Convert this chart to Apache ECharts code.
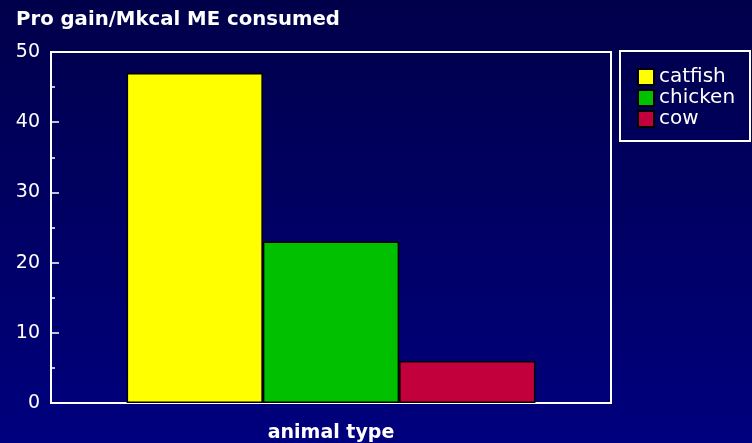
<!DOCTYPE html>
<html>
<head>
<meta charset="utf-8">
<script src="https://cdn.jsdelivr.net/npm/echarts@6/dist/echarts.min.js"></script>
<style>
  html, body { margin: 0; padding: 0; }
  #chart { width: 752px; height: 443px; }
</style>
</head>
<body>
<div id="chart"></div>
<script>
// Protein gain per Mkcal of metabolizable energy consumed, by animal
const animals = ['catfish', 'chicken', 'cow'];
const proGain = [47, 23, 6];
const animalColors = ['#ffff00', '#00c000', '#c2003c'];
const yTicks = [0, 10, 20, 30, 40, 50];

const font = '"DejaVu Sans", Verdana, sans-serif';

const series = animals.map((name, i) => ({
  name: name,
  type: 'bar',
  data: [proGain[i]],
  barGap: '0%',
  barCategoryGap: '27%',
  itemStyle: { color: animalColors[i], borderColor: '#000', borderWidth: 1.5 }
}));

const chart = echarts.init(document.getElementById('chart'));
chart.setOption({
  animation: false,
  backgroundColor: {
    type: 'linear', x: 0, y: 0, x2: 0, y2: 1,
    colorStops: [
      { offset: 0, color: '#00004a' },
      { offset: 1, color: '#00007e' }
    ]
  },
  title: {
    text: 'Pro gain/Mkcal ME consumed',
    left: 16, top: 10,
    padding: 0,
    textStyle: { color: '#fff', fontSize: 19.7, fontWeight: 'bold', fontFamily: font }
  },
  graphic: [{
    type: 'rect',
    shape: { x: 620, y: 51, width: 130, height: 90 },
    style: { fill: 'none', stroke: '#fff', lineWidth: 2 },
    z: 10
  }],
  legend: {
    orient: 'vertical',
    left: 637, top: 67,
    padding: 0,
    itemWidth: 16, itemHeight: 16,
    itemGap: 1,
    icon: 'rect',
    textStyle: { color: '#fff', fontSize: 20, fontFamily: font },
    data: animals
  },
  grid: {
    left: 51, top: 52, right: 141, bottom: 40,
    outerBoundsMode: 'none',
    show: true, borderColor: '#fff', borderWidth: 2,
    backgroundColor: 'transparent'
  },
  xAxis: {
    type: 'category',
    data: [''],
    name: 'animal type',
    nameLocation: 'middle',
    nameGap: 21,
    nameTextStyle: { color: '#fff', fontSize: 19, fontWeight: 'bold', fontFamily: font },
    axisLine: { lineStyle: { color: '#fff', width: 2 } },
    axisTick: { show: false },
    axisLabel: { show: false }
  },
  yAxis: {
    type: 'value',
    min: yTicks[0],
    max: yTicks[yTicks.length - 1],
    interval: 10,
    axisLine: { show: true, lineStyle: { color: '#fff', width: 2 } },
    axisTick: { show: true, inside: true, length: 8, lineStyle: { color: '#fff', width: 1.5 } },
    minorTick: { show: true, splitNumber: 2, length: 4, lineStyle: { color: '#fff', width: 1.5 } },
    splitLine: { show: false },
    axisLabel: { color: '#fff', fontSize: 19, fontFamily: font, margin: 11, padding: [3, 0, 0, 0] }
  },
  series: series
});
</script>
</body>
</html>
